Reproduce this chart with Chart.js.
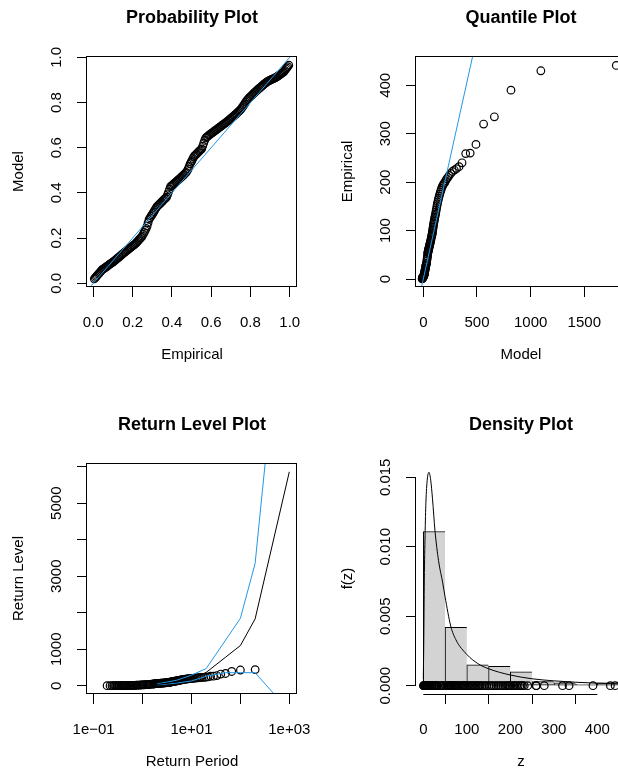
<!DOCTYPE html>
<html><head><meta charset="utf-8">
<script src="https://cdn.jsdelivr.net/npm/chart.js@4.4.1/dist/chart.umd.min.js"></script>
<style>
html,body{margin:0;padding:0;background:#fff;overflow:hidden;width:618px;height:771px;}
#wrap{position:relative;width:618px;height:771px;overflow:hidden;background:#fff;}
canvas{position:absolute;}
</style></head><body><div id="wrap">
<canvas id="c1" width="329" height="407" style="left:0;top:0"></canvas>
<canvas id="c2" width="329" height="407" style="left:329px;top:0"></canvas>
<canvas id="c3" width="329" height="407" style="left:0;top:407px"></canvas>
<canvas id="c4" width="329" height="407" style="left:329px;top:407px"></canvas>
</div>
<script>
// ---------- Probability plot (empirical vs model probability) ----------
const ppEmp = [0.005,0.015,0.025,0.035,0.045,0.055,0.065,0.075,0.085,0.095,
0.104,0.114,0.124,0.134,0.144,0.154,0.164,0.174,0.184,0.194,
0.204,0.214,0.224,0.234,0.244,0.254,0.264,0.274,0.284,0.294,
0.303,0.313,0.323,0.333,0.343,0.353,0.363,0.373,0.383,0.393,
0.403,0.413,0.423,0.433,0.443,0.453,0.463,0.473,0.483,0.493,
0.502,0.512,0.522,0.532,0.542,0.552,0.562,0.572,0.582,0.592,
0.602,0.612,0.622,0.632,0.642,0.652,0.662,0.672,0.682,0.692,
0.701,0.711,0.721,0.731,0.741,0.751,0.761,0.771,0.781,0.791,
0.801,0.811,0.821,0.831,0.841,0.851,0.861,0.871,0.881,0.891,
0.900,0.910,0.920,0.930,0.940,0.950,0.960,0.970,0.980,0.990,
0.995];
const ppModel = [0.020,0.030,0.040,0.050,0.060,0.066,0.072,0.078,0.085,0.091,
0.097,0.104,0.111,0.118,0.126,0.133,0.140,0.147,0.154,0.161,
0.168,0.175,0.184,0.194,0.203,0.217,0.234,0.253,0.283,0.297,
0.309,0.324,0.338,0.347,0.355,0.364,0.373,0.381,0.404,0.428,
0.435,0.443,0.450,0.458,0.465,0.474,0.482,0.491,0.506,0.529,
0.543,0.561,0.569,0.578,0.587,0.595,0.620,0.643,0.650,0.657,
0.664,0.670,0.677,0.683,0.690,0.696,0.703,0.709,0.716,0.723,
0.730,0.737,0.745,0.753,0.761,0.770,0.782,0.795,0.808,0.818,
0.827,0.835,0.844,0.852,0.860,0.867,0.875,0.882,0.889,0.895,
0.899,0.903,0.907,0.911,0.917,0.923,0.930,0.936,0.948,0.959,
0.965];
const ppEmpEven = [0.010,0.020,0.030,0.040,0.050,0.060,0.070,0.080,0.090,0.100,
0.109,0.119,0.129,0.139,0.149,0.159,0.169,0.179,0.189,0.199,
0.209,0.219,0.229,0.239,0.249,0.259,0.269,0.279,0.289,0.299,
0.308,0.318,0.328,0.338,0.348,0.358,0.368,0.378,0.388,0.398,
0.408,0.418,0.428,0.438,0.448,0.458,0.468,0.478,0.488,0.498,
0.507,0.517,0.527,0.537,0.547,0.557,0.567,0.577,0.587,0.597,
0.607,0.617,0.627,0.637,0.647,0.657,0.667,0.677,0.687,0.697,
0.706,0.716,0.726,0.736,0.746,0.756,0.766,0.776,0.786,0.796,
0.806,0.816,0.826,0.836,0.846,0.856,0.866,0.876,0.886,0.896,
0.905,0.915,0.925,0.935,0.945,0.955,0.965,0.975,0.985];
const ppModelEven = [0.025,0.035,0.045,0.055,0.063,0.069,0.075,0.082,0.088,0.094,
0.100,0.108,0.115,0.122,0.130,0.137,0.144,0.151,0.158,0.165,
0.171,0.179,0.189,0.199,0.209,0.225,0.243,0.268,0.290,0.303,
0.316,0.331,0.343,0.351,0.360,0.369,0.377,0.392,0.416,0.431,
0.439,0.447,0.454,0.462,0.470,0.478,0.487,0.498,0.517,0.536,
0.552,0.565,0.574,0.583,0.591,0.607,0.632,0.647,0.654,0.661,
0.667,0.674,0.680,0.687,0.693,0.700,0.706,0.713,0.720,0.727,
0.734,0.741,0.749,0.757,0.765,0.776,0.788,0.802,0.813,0.823,
0.831,0.840,0.848,0.856,0.864,0.871,0.879,0.886,0.892,0.897,
0.901,0.905,0.909,0.914,0.920,0.927,0.933,0.942,0.953];

// ---------- Observations (sorted) with model quantiles and return periods ----------
const obs = [0.5,1,1.5,2,2.5,3,3.5,4,4.5,5,5.5,6.5,7.5,9,11,14,18,21,26,29,33,41,47,
51,54,55.5,57,58.5,60,62,63.5,65,67,69,71,73,75,77.5,80,83,86,89,
91,93,95.5,98,101,104,107,110,113,116,119,122,125,128,131,134,138,142,146,151,155,159,163,167,171,175,179,183,187,191,194,197,199,203,207,210,214,218,222,225,228,232,240,259,260,278,320,335,390,430,441];
const qqModel = [-11.1,-9.7,-8.7,-7.9,-6.5,-5.3,-4.3,-3.0,-1.7,-0.2,1.7,3.4,5.5,7.6,10.0,12.6,15.6,18.8,22.2,26.0,30.1,34.7,39.2,
40.6,42.1,43.6,45.1,46.7,48.4,50.1,51.9,53.8,55.8,57.8,60.0,62.3,64.6,67.2,69.8,72.6,75.6,78.7,
80.4,82.1,83.9,85.7,87.6,89.6,91.6,93.7,95.8,98.1,100.5,102.9,105.5,108.2,111.0,113.9,116.9,120.1,123.5,127.1,130.8,134.7,138.9,143.3,147.9,152.9,158.3,163.9,170.0,176.6,183.6,191.3,199.6,208.8,218.8,229.8,242.0,255.7,271.3,289.0,309.3,333.0,361.1,395.0,437.0,490.6,561.8,662.2,817.0,1095.3,1798.2];
const rlPeriod = [0.1886,0.2169,0.2378,0.2553,0.2848,0.3102,0.3333,0.3652,0.3951,0.4334,0.4797,0.5257,0.5815,0.6387,0.7085,0.7825,0.8738,0.9741,1.0855,1.2107,1.3533,1.5177,1.684,
1.736,1.791,1.848,1.908,1.970,2.036,2.105,2.178,2.255,2.336,2.422,2.512,2.609,2.711,2.821,2.937,3.062,3.196,3.340,
3.417,3.496,3.579,3.665,3.754,3.848,3.946,4.048,4.154,4.266,4.383,4.507,4.636,4.772,4.916,5.067,5.227,5.396,5.576,5.767,5.970,6.187,6.418,6.666,6.932,7.219,7.529,7.864,8.229,8.627,9.062,9.541,10.07,10.66,11.32,12.06,12.89,13.85,14.96,16.25,17.77,19.60,21.83,24.62,28.21,33.00,39.70,49.75,66.50,100.0,200.5];
// further low observations (filling the dense lower part of the sample)
const obsLow      = [2.2,2.8,3.2,3.7,4.2,4.8,5.2,6,7,8.2,10,12.5,16,19.5,23.5,27.5,31,37,44];
const qqModelLow  = [-7.1,-5.9,-4.8,-3.9,-2.5,-0.9,0.6,2.4,4.5,6.5,8.6,11.1,14.1,17.2,20.5,24.1,28.0,32.4,37.2];
const rlPeriodLow = [0.2707,0.2978,0.3219,0.3442,0.3753,0.4144,0.4520,0.4981,0.5535,0.6099,0.6682,0.7396,0.8271,0.9227,1.0282,1.1461,1.2796,1.4324,1.6098];

// ---------- Return level curves ----------
const rlPeriods  = [2, 5, 10, 20, 50, 100, 200, 1000];
const rlEstimate = [33, 103, 192, 365, 783, 1100, 1830, 5860];
const rlUpper    = [50, 150, 290, 470, 1253, 1846, 3350, 12700];
const rlLower    = [22, 72, 130, 260, 357, 357, 357, -700];

// ---------- Histogram and density ----------
const histBreaks  = [0, 50, 100, 150, 200, 250, 300, 350, 400, 450];
const histDensity = [0.0111, 0.0042, 0.0015, 0.0014, 0.0010, 0.0003, 0.0002, 0.0001, 0.0002];
const densZ = [0,1,2.3,4,6,9,13,17,21,27,35,44.6,50,63,75,100,125,150,200,250,300,350,400,466];
const densF = [0.0005,0.0030,0.0076,0.0108,0.0132,0.0148,0.01536,0.0148,0.0135,0.0111,0.0090,0.0074,0.0064,0.0043,0.0033,0.00225,0.0016,0.00122,0.00077,0.0005,0.00035,0.00025,0.00018,0.00012];

// ---------- Tick values / labels ----------
const probTicks = [0, 0.2, 0.4, 0.6, 0.8, 1.0];
const probLabels = ['0.0','0.2','0.4','0.6','0.8','1.0'];
const qModelTicks = [0, 500, 1000, 1500];
const qModelLabels = ['0','500','1000','1500'];
const qEmpTicks = [0, 100, 200, 300, 400];
const qEmpLabels = ['0','100','200','300','400'];
const rpTicks = [0.1, 1, 10, 100, 1000];
const rpLabels = ['1e\u221201','','1e+01','','1e+03'];
const rlTicks = [0, 1000, 2000, 3000, 4000, 5000, 6000];
const rlLabels = ['0','1000','','3000','','5000',''];
const zTicks = [0, 100, 200, 300, 400];
const zLabels = ['0','100','200','300','400'];
const fTicks = [0, 0.005, 0.010, 0.015];
const fLabels = ['0.000','0.005','0.010','0.015'];

// ---------- Styling / layout ----------
const FONT = "'Liberation Sans', Arial, Helvetica, sans-serif";
const BLUE = '#2297E6';
Chart.defaults.font.family = FONT;
Chart.defaults.font.size = 15;
Chart.defaults.color = '#000';
const G = {W: 329, H: 407, L: 87, T: 56, R: 297, B: 287};
const TL = 10;

function measure(labels) {
  const ctx = document.createElement('canvas').getContext('2d');
  ctx.font = 'normal 15px ' + FONT;
  let w = 0;
  labels.forEach(s => { if (s) w = Math.max(w, ctx.measureText(s).width); });
  return w;
}
const tickGrid = {display: true, drawOnChartArea: false, drawTicks: true, tickLength: TL, color: '#000', lineWidth: 1};

function xScale(o) {
  return {
    type: o.type || 'linear', position: 'bottom', min: o.min, max: o.max, offset: false,
    afterBuildTicks: s => { s.ticks = o.ticks.map(v => ({value: v})); },
    afterFit: s => { s.height = G.H - G.B; },
    ticks: {autoSkip: false, maxRotation: 0, minRotation: 0, padding: 17, callback: (v, i) => o.labels[i]},
    grid: tickGrid, border: {display: false},
    title: {display: true, text: o.title, padding: {top: 0, bottom: 43.5}}
  };
}
function yScale(o) {
  const w = measure(o.labels);
  return {
    type: 'linear', position: 'left', min: o.min, max: o.max,
    afterBuildTicks: s => { s.ticks = o.ticks.map(v => ({value: v})); },
    afterFit: s => { s.width = G.L; },
    ticks: {autoSkip: false, minRotation: 90, maxRotation: 90, crossAlign: 'center', padding: 19.7 - w / 2, callback: (v, i) => o.labels[i]},
    grid: tickGrid, border: {display: false},
    title: {display: true, text: o.title, padding: {top: 9.5, bottom: 0}}
  };
}
const rFrame = {
  id: 'rFrame',
  afterDatasetsDraw(chart, args, o) {
    const {ctx, chartArea: a, scales} = chart;
    ctx.save();
    ctx.strokeStyle = '#000'; ctx.lineWidth = 1;
    if (o.box) {
      ctx.strokeRect(a.left - 0.5, a.top + 0.5, a.right - a.left, a.bottom - a.top - 1);
    }
    if (o.xTicks) {
      const xs = scales.x, ys = scales.y;
      ctx.beginPath();
      ctx.moveTo(xs.getPixelForValue(o.xTicks[0]), a.bottom + 0.5);
      ctx.lineTo(xs.getPixelForValue(o.xTicks[o.xTicks.length - 1]), a.bottom + 0.5);
      ctx.moveTo(a.left - 0.5, ys.getPixelForValue(o.yTicks[0]));
      ctx.lineTo(a.left - 0.5, ys.getPixelForValue(o.yTicks[o.yTicks.length - 1]));
      ctx.stroke();
    }
    ctx.restore();
  }
};
function baseOptions(title, scales, frame) {
  return {
    responsive: false, animation: false, devicePixelRatio: 1,
    layout: {padding: {left: 0, top: 0, right: G.W - G.R, bottom: 0}},
    scales: scales,
    plugins: {
      legend: {display: false}, tooltip: {enabled: false},
      title: {display: true, text: title, fullSize: false, color: '#000',
              font: {size: 18, weight: 'bold'}, padding: {top: 7.2, bottom: 27.2}},
      rFrame: frame
    }
  };
}
const circle = {pointStyle: 'circle', pointRadius: 3.8, pointBorderWidth: 1.2, borderColor: '#000',
                pointBorderColor: '#000', pointBackgroundColor: 'rgba(0,0,0,0)', backgroundColor: 'rgba(0,0,0,0)', showLine: false};
function pts(xs, ys, order) {
  return Object.assign({data: xs.map((x, i) => ({x: x, y: ys[i]})), order: order}, circle);
}
function lineDs(xs, ys, color, order) {
  return {type: 'scatter', data: xs.map((x, i) => ({x: x, y: ys[i]})), showLine: true,
          borderColor: color, borderWidth: 1, pointRadius: 0, fill: false, order: order};
}

// Panel 1: Probability plot
new Chart(document.getElementById('c1'), {
  type: 'scatter',
  data: {datasets: [
    pts(ppEmp, ppModel, 2),
    pts(ppEmpEven, ppModelEven, 3),
    lineDs([-0.1, 1.1], [-0.1, 1.1], BLUE, 1)
  ]},
  options: baseOptions('Probability Plot', {
    x: xScale({min: -0.032, max: 1.037, ticks: probTicks, labels: probLabels, title: 'Empirical'}),
    y: yScale({min: -0.0164, max: 1.0058, ticks: probTicks, labels: probLabels, title: 'Model'})
  }, {box: true}),
  plugins: [rFrame]
});

// Panel 2: Quantile plot
new Chart(document.getElementById('c2'), {
  type: 'scatter',
  data: {datasets: [
    pts(qqModel, obs, 2),
    pts(qqModelLow, obsLow, 3),
    lineDs([-100, 2000], [-100, 2000], BLUE, 1)
  ]},
  options: baseOptions('Quantile Plot', {
    x: xScale({min: -68, max: 1888.6, ticks: qModelTicks, labels: qModelLabels, title: 'Model'}),
    y: yScale({min: -16.5, max: 460.5, ticks: qEmpTicks, labels: qEmpLabels, title: 'Empirical'})
  }, {box: true}),
  plugins: [rFrame]
});

// Panel 3: Return level plot
new Chart(document.getElementById('c3'), {
  type: 'scatter',
  data: {datasets: [
    pts(rlPeriod, obs, 4),
    pts(rlPeriodLow, obsLow, 5),
    lineDs(rlPeriods, rlEstimate, '#000', 1),
    lineDs(rlPeriods, rlUpper, BLUE, 2),
    lineDs(rlPeriods, rlLower, BLUE, 3)
  ]},
  options: baseOptions('Return Level Plot', {
    x: xScale({type: 'logarithmic', min: Math.pow(10, -1.135), max: Math.pow(10, 3.157), ticks: rpTicks, labels: rpLabels, title: 'Return Period'}),
    y: yScale({min: -227, max: 6101, ticks: rlTicks, labels: rlLabels, title: 'Return Level'})
  }, {box: true}),
  plugins: [rFrame]
});

// Panel 4: Density plot
const histMids = histDensity.map((d, i) => (histBreaks[i] + histBreaks[i + 1]) / 2);
new Chart(document.getElementById('c4'), {
  type: 'scatter',
  data: {datasets: [
    pts(obs, obs.map(() => 0), 1),
    pts(obsLow, obsLow.map(() => 0), 1),
    Object.assign(lineDs(densZ, densF, '#000', 2), {cubicInterpolationMode: 'monotone'}),
    {type: 'bar', data: histMids.map((m, i) => ({x: m, y: histDensity[i]})),
     backgroundColor: '#D3D3D3', borderColor: '#000',
     borderWidth: c => (c.dataIndex === histMids.length - 1 ? 1 : {left: 1, top: 1, bottom: 1, right: 0}),
     borderSkipped: false, barPercentage: 1, categoryPercentage: 1, grouped: false, order: 3}
  ]},
  options: baseOptions('Density Plot', {
    x: xScale({min: -16.8, max: 465.9, ticks: zTicks, labels: zLabels, title: 'z'}),
    y: yScale({min: -0.000597, max: 0.01603, ticks: fTicks, labels: fLabels, title: 'f(z)'})
  }, {xTicks: zTicks, yTicks: fTicks}),
  plugins: [rFrame]
});
</script>
</body></html>
